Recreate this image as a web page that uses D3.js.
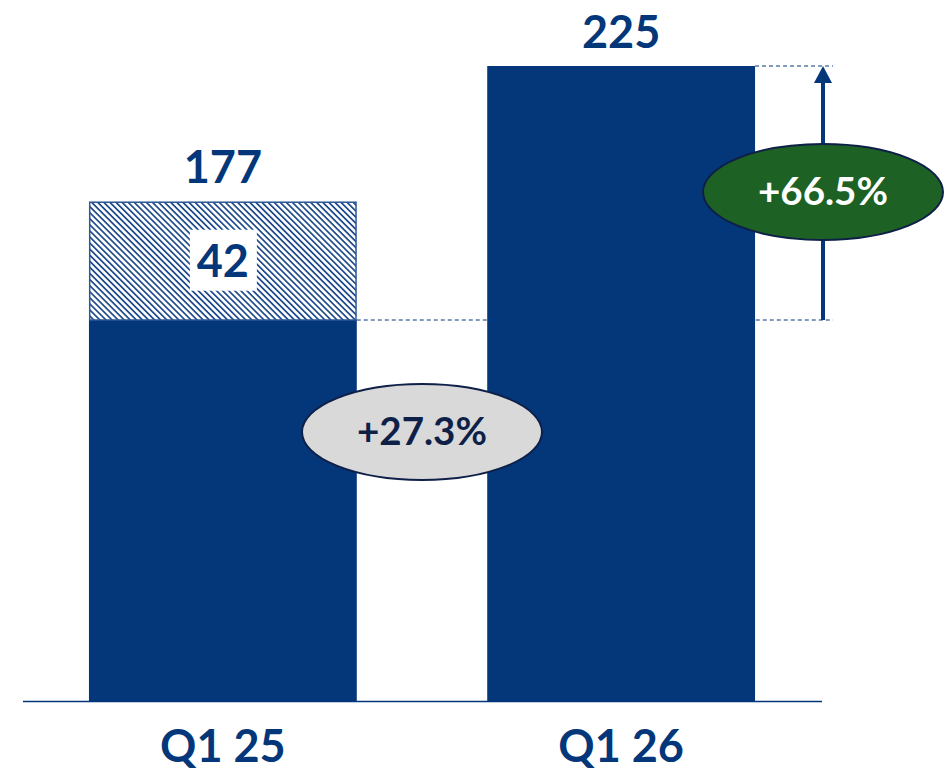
<!DOCTYPE html>
<html>
<head>
<meta charset="utf-8">
<script src="https://cdn.jsdelivr.net/npm/d3@7"></script>
<style>
  html, body { margin: 0; padding: 0; background: #fff; }
  svg { display: block; }
  text { font-family: Lato, "Open Sans", sans-serif; font-weight: 700; }
</style>
</head>
<body>
<svg id="chart" width="948" height="775"></svg>
<script>
// Quarterly totals and the hatched (one-off) portion of each bar
const categories = ["Q1 25", "Q1 26"];
const totals = [177, 225];
const hatched = [42, 0];
const totalLabels = ["177", "225"];
const hatchedLabels = ["42", ""];
const growthVsTotal = "+27.3%";
const growthVsBase = "+66.5%";

const blue = "#03377A";
const navy = "#0E1F48";

const svg = d3.select("#chart");

const x = d3.scaleBand()
  .domain(categories)
  .range([23.75, 820.25])
  .paddingInner(0.3275)
  .paddingOuter(0.1637);

const y = d3.scaleLinear().domain([0, 225]).range([701, 66]);

// Diagonal hatch for the one-off portion
const defs = svg.append("defs");
const pat = defs.append("pattern")
  .attr("id", "hatch")
  .attr("patternUnits", "userSpaceOnUse")
  .attr("width", 4.3).attr("height", 4.3)
  .attr("patternTransform", "rotate(45)");
pat.append("rect").attr("width", 4.3).attr("height", 4.3).attr("fill", "#fff");
pat.append("rect").attr("x", 0).attr("y", 0).attr("width", 4.3).attr("height", 1.7).attr("fill", "#1f4b8c");

const rows = categories.map((c, i) => ({
  cat: c, total: totals[i], hatch: hatched[i], base: totals[i] - hatched[i],
  tl: totalLabels[i], hl: hatchedLabels[i]
}));

// Solid base bars
svg.selectAll("rect.base").data(rows).join("rect")
  .attr("class", "base")
  .attr("x", d => x(d.cat))
  .attr("width", x.bandwidth())
  .attr("y", d => y(d.base))
  .attr("height", d => y(0) - y(d.base))
  .attr("fill", blue);

// Hatched top segments
svg.selectAll("rect.hatch").data(rows.filter(d => d.hatch > 0)).join("rect")
  .attr("class", "hatch")
  .attr("x", d => x(d.cat) + 0.75)
  .attr("width", x.bandwidth() - 1.5)
  .attr("y", d => y(d.total) + 0.75)
  .attr("height", d => y(d.base) - y(d.total) - 0.75)
  .attr("fill", "url(#hatch)")
  .attr("stroke", "#2d5796")
  .attr("stroke-width", 1.5);

// White label box inside hatched segment
rows.filter(d => d.hatch > 0).forEach(d => {
  const cx = x(d.cat) + x.bandwidth() / 2;
  const cy = (y(d.total) + y(d.base)) / 2;
  svg.append("rect")
    .attr("x", cx - 33).attr("y", cy - 31)
    .attr("width", 67).attr("height", 61)
    .attr("fill", "#fff");
  svg.append("text")
    .attr("x", cx).attr("y", cy + 16)
    .attr("text-anchor", "middle")
    .attr("font-size", 45)
    .attr("fill", blue)
    .text(d.hl);
});

// Baseline
svg.append("line")
  .attr("x1", 23).attr("x2", 822)
  .attr("y1", y(0) + 0.5).attr("y2", y(0) + 0.5)
  .attr("stroke", blue).attr("stroke-width", 1.5);

// Total labels
svg.selectAll("text.total").data(rows).join("text")
  .attr("class", "total")
  .attr("x", d => x(d.cat) + x.bandwidth() / 2)
  .attr("y", d => y(d.total) - 18)
  .attr("text-anchor", "middle")
  .attr("font-size", 45)
  .attr("fill", blue)
  .text(d => d.tl);

// Category labels
svg.selectAll("text.cat").data(rows).join("text")
  .attr("class", "cat")
  .attr("x", d => x(d.cat) + x.bandwidth() / 2)
  .attr("y", 762)
  .attr("text-anchor", "middle")
  .attr("font-size", 45)
  .attr("fill", blue)
  .text(d => d.cat);

// Dashed guides and growth arrow
const r0 = rows[0], r1 = rows[1];
const arrowX = 823;
svg.append("line")
  .attr("x1", x(r0.cat) + x.bandwidth()).attr("x2", 833)
  .attr("y1", y(r0.base)).attr("y2", y(r0.base))
  .attr("stroke", blue).attr("stroke-width", 1).attr("stroke-dasharray", "4,3");
svg.append("line")
  .attr("x1", x(r1.cat) + x.bandwidth()).attr("x2", 833)
  .attr("y1", y(r1.total)).attr("y2", y(r1.total))
  .attr("stroke", blue).attr("stroke-width", 1).attr("stroke-dasharray", "4,3");
svg.append("line")
  .attr("x1", arrowX).attr("x2", arrowX)
  .attr("y1", y(r0.base)).attr("y2", y(r1.total) + 14)
  .attr("stroke", blue).attr("stroke-width", 4);
svg.append("path")
  .attr("d", `M${arrowX},${y(r1.total)} L${arrowX - 9},${y(r1.total) + 17} L${arrowX + 9},${y(r1.total) + 17} Z`)
  .attr("fill", blue);

// Growth bubbles
function bubble(cx, cy, fill, color, label) {
  svg.append("ellipse")
    .attr("cx", cx).attr("cy", cy)
    .attr("rx", 120).attr("ry", 48)
    .attr("fill", fill)
    .attr("stroke", navy).attr("stroke-width", 2);
  svg.append("text")
    .attr("x", cx).attr("y", cy + 13)
    .attr("text-anchor", "middle")
    .attr("font-size", 38.5)
    .attr("fill", color)
    .text(label);
}
bubble(422, 432, "#D9D9D9", navy, growthVsTotal);
bubble(823, 192, "#1E6125", "#fff", growthVsBase);
</script>
</body>
</html>
